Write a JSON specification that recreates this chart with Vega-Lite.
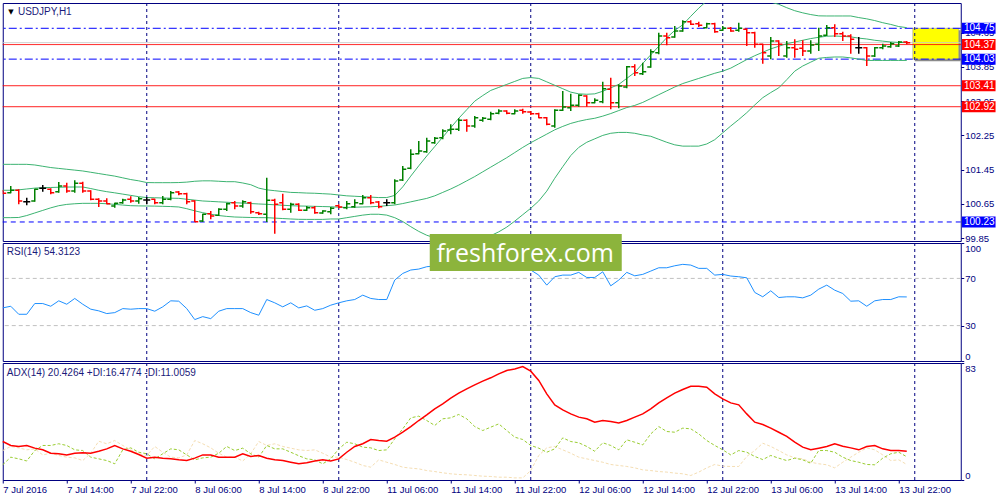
{
"$schema": "https://vega.github.io/schema/vega-lite/v6.json",
"background": "#ffffff",
"padding": {"left": -1.25, "top": 2, "right": 0, "bottom": 0},
"spacing": 2,
"bounds": "flush",
"datasets": {
"bars": [
{"i":0,"o":100.953,"h":100.976,"l":100.875,"c":100.898,"bu":101.575,"bm":100.97,"bl":100.331,"rsi":45.0,"adx":27.3,"pdi":10.8,"mdi":20.9},
{"i":1,"o":100.914,"h":101.069,"l":100.898,"c":100.968,"bu":101.575,"bm":100.97,"bl":100.331,"rsi":46.4,"adx":24.5,"pdi":16.2,"mdi":23.8},
{"i":2,"o":100.968,"h":100.991,"l":100.641,"c":100.719,"bu":101.575,"bm":100.98,"bl":100.335,"rsi":39.6,"adx":23.8,"pdi":15.0,"mdi":22.8},
{"i":3,"o":100.704,"h":100.797,"l":100.618,"c":100.704,"bu":101.575,"bm":101.00,"bl":100.38,"rsi":39.6,"adx":24.5,"pdi":13.5,"mdi":21.4},
{"i":4,"o":100.719,"h":101.007,"l":100.704,"c":100.991,"bu":101.56,"bm":101.02,"bl":100.44,"rsi":48.7,"adx":22.6,"pdi":20.9,"mdi":22.1},
{"i":5,"o":101.015,"h":101.093,"l":100.937,"c":101.015,"bu":101.53,"bm":101.03,"bl":100.50,"rsi":48.7,"adx":21.4,"pdi":24.5,"mdi":17.8},
{"i":6,"o":100.991,"h":101.015,"l":100.875,"c":100.914,"bu":101.50,"bm":101.035,"bl":100.56,"rsi":46.4,"adx":19.0,"pdi":24.5,"mdi":19.0},
{"i":7,"o":100.937,"h":101.163,"l":100.914,"c":101.069,"bu":101.48,"bm":101.04,"bl":100.61,"rsi":51.0,"adx":18.6,"pdi":25.7,"mdi":17.4},
{"i":8,"o":101.069,"h":101.147,"l":100.914,"c":100.953,"bu":101.46,"bm":101.045,"bl":100.64,"rsi":48.1,"adx":17.8,"pdi":24.5,"mdi":16.2},
{"i":9,"o":100.953,"h":101.201,"l":100.914,"c":101.131,"bu":101.44,"bm":101.046,"bl":100.655,"rsi":53.0,"adx":19.0,"pdi":21.4,"mdi":15.7},
{"i":10,"o":101.131,"h":101.170,"l":100.914,"c":100.953,"bu":101.42,"bm":101.046,"bl":100.665,"rsi":48.1,"adx":19.3,"pdi":20.9,"mdi":13.8},
{"i":11,"o":100.953,"h":100.968,"l":100.735,"c":100.758,"bu":101.39,"bm":101.01,"bl":100.665,"rsi":43.9,"adx":19.0,"pdi":16.2,"mdi":19.0},
{"i":12,"o":100.758,"h":100.781,"l":100.579,"c":100.719,"bu":101.36,"bm":100.97,"bl":100.665,"rsi":42.5,"adx":20.4,"pdi":15.0,"mdi":27.5},
{"i":13,"o":100.719,"h":100.781,"l":100.641,"c":100.657,"bu":101.33,"bm":100.937,"bl":100.655,"rsi":40.2,"adx":22.1,"pdi":13.8,"mdi":25.7},
{"i":14,"o":100.602,"h":100.680,"l":100.564,"c":100.665,"bu":101.30,"bm":100.91,"bl":100.64,"rsi":41.0,"adx":24.5,"pdi":11.5,"mdi":28.0},
{"i":15,"o":100.680,"h":100.774,"l":100.657,"c":100.742,"bu":101.26,"bm":100.88,"bl":100.625,"rsi":44.4,"adx":22.1,"pdi":21.4,"mdi":24.5},
{"i":16,"o":100.758,"h":100.828,"l":100.680,"c":100.719,"bu":101.22,"bm":100.85,"bl":100.61,"rsi":43.9,"adx":20.4,"pdi":22.8,"mdi":21.4},
{"i":17,"o":100.719,"h":100.812,"l":100.657,"c":100.774,"bu":101.19,"bm":100.82,"bl":100.605,"rsi":44.4,"adx":18.1,"pdi":19.7,"mdi":18.6},
{"i":18,"o":100.742,"h":100.812,"l":100.641,"c":100.742,"bu":101.15,"bm":100.80,"bl":100.603,"rsi":44.4,"adx":15.5,"pdi":18.6,"mdi":17.4},
{"i":19,"o":100.758,"h":100.774,"l":100.641,"c":100.680,"bu":101.147,"bm":100.795,"bl":100.60,"rsi":42.2,"adx":16.2,"pdi":15.0,"mdi":23.8},
{"i":20,"o":100.680,"h":100.836,"l":100.641,"c":100.758,"bu":101.147,"bm":100.79,"bl":100.595,"rsi":45.9,"adx":15.5,"pdi":18.6,"mdi":19.7},
{"i":21,"o":100.758,"h":100.953,"l":100.735,"c":100.914,"bu":101.147,"bm":100.785,"bl":100.59,"rsi":51.0,"adx":15.0,"pdi":22.1,"mdi":16.2},
{"i":22,"o":100.930,"h":100.953,"l":100.851,"c":100.890,"bu":101.15,"bm":100.782,"bl":100.58,"rsi":50.7,"adx":14.3,"pdi":21.4,"mdi":15.7},
{"i":23,"o":100.890,"h":100.914,"l":100.641,"c":100.704,"bu":101.16,"bm":100.76,"bl":100.54,"rsi":44.4,"adx":13.8,"pdi":17.8,"mdi":17.8},
{"i":24,"o":100.719,"h":100.735,"l":100.229,"c":100.237,"bu":101.18,"bm":100.74,"bl":100.49,"rsi":35.1,"adx":15.5,"pdi":14.3,"mdi":28.0},
{"i":25,"o":100.252,"h":100.424,"l":100.229,"c":100.408,"bu":101.19,"bm":100.72,"bl":100.447,"rsi":37.6,"adx":17.8,"pdi":15.7,"mdi":25.7},
{"i":26,"o":100.424,"h":100.486,"l":100.291,"c":100.369,"bu":101.19,"bm":100.71,"bl":100.41,"rsi":35.9,"adx":17.8,"pdi":16.2,"mdi":22.8},
{"i":27,"o":100.385,"h":100.548,"l":100.369,"c":100.525,"bu":101.18,"bm":100.70,"bl":100.38,"rsi":42.2,"adx":16.2,"pdi":19.0,"mdi":19.0},
{"i":28,"o":100.525,"h":100.680,"l":100.486,"c":100.657,"bu":101.17,"bm":100.69,"bl":100.36,"rsi":44.4,"adx":16.2,"pdi":23.8,"mdi":16.2},
{"i":29,"o":100.680,"h":100.719,"l":100.525,"c":100.602,"bu":101.17,"bm":100.68,"bl":100.346,"rsi":44.4,"adx":16.2,"pdi":20.9,"mdi":16.2},
{"i":30,"o":100.602,"h":100.735,"l":100.564,"c":100.704,"bu":101.14,"bm":100.67,"bl":100.34,"rsi":44.4,"adx":18.6,"pdi":22.6,"mdi":13.5},
{"i":31,"o":100.680,"h":100.704,"l":100.424,"c":100.470,"bu":101.10,"bm":100.66,"bl":100.335,"rsi":41.0,"adx":16.7,"pdi":18.6,"mdi":18.6},
{"i":32,"o":100.447,"h":100.470,"l":100.392,"c":100.424,"bu":101.02,"bm":100.65,"bl":100.331,"rsi":38.8,"adx":17.4,"pdi":16.2,"mdi":27.3},
{"i":33,"o":100.408,"h":101.264,"l":100.229,"c":100.735,"bu":100.98,"bm":100.642,"bl":100.33,"rsi":52.1,"adx":15.5,"pdi":24.5,"mdi":24.5},
{"i":34,"o":100.735,"h":100.774,"l":99.957,"c":100.641,"bu":100.96,"bm":100.63,"bl":100.32,"rsi":49.3,"adx":14.3,"pdi":22.1,"mdi":25.7},
{"i":35,"o":100.680,"h":100.890,"l":100.501,"c":100.525,"bu":100.94,"bm":100.62,"bl":100.31,"rsi":45.9,"adx":13.8,"pdi":22.1,"mdi":23.8},
{"i":36,"o":100.525,"h":100.680,"l":100.447,"c":100.641,"bu":100.92,"bm":100.61,"bl":100.30,"rsi":49.3,"adx":12.6,"pdi":19.7,"mdi":22.6},
{"i":37,"o":100.641,"h":100.665,"l":100.486,"c":100.501,"bu":100.914,"bm":100.603,"bl":100.292,"rsi":45.0,"adx":11.5,"pdi":17.2,"mdi":21.4},
{"i":38,"o":100.501,"h":100.602,"l":100.486,"c":100.564,"bu":100.905,"bm":100.60,"bl":100.29,"rsi":46.7,"adx":12.2,"pdi":15.0,"mdi":20.9},
{"i":39,"o":100.564,"h":100.602,"l":100.424,"c":100.447,"bu":100.90,"bm":100.595,"bl":100.29,"rsi":43.0,"adx":13.5,"pdi":14.3,"mdi":21.4},
{"i":40,"o":100.439,"h":100.501,"l":100.424,"c":100.486,"bu":100.89,"bm":100.59,"bl":100.29,"rsi":44.4,"adx":14.3,"pdi":11.5,"mdi":19.0},
{"i":41,"o":100.470,"h":100.579,"l":100.408,"c":100.548,"bu":100.88,"bm":100.585,"bl":100.30,"rsi":47.3,"adx":13.5,"pdi":15.0,"mdi":16.2},
{"i":42,"o":100.610,"h":100.641,"l":100.548,"c":100.579,"bu":100.86,"bm":100.575,"bl":100.30,"rsi":49.3,"adx":15.0,"pdi":22.1,"mdi":16.2},
{"i":43,"o":100.564,"h":100.720,"l":100.525,"c":100.658,"bu":100.84,"bm":100.57,"bl":100.33,"rsi":51.0,"adx":19.7,"pdi":26.8,"mdi":14.5},
{"i":44,"o":100.588,"h":100.759,"l":100.564,"c":100.681,"bu":100.83,"bm":100.575,"bl":100.36,"rsi":52.1,"adx":23.8,"pdi":25.7,"mdi":12.6},
{"i":45,"o":100.658,"h":100.860,"l":100.642,"c":100.798,"bu":100.82,"bm":100.58,"bl":100.39,"rsi":55.8,"adx":25.7,"pdi":23.3,"mdi":10.3},
{"i":46,"o":100.798,"h":100.860,"l":100.642,"c":100.681,"bu":100.81,"bm":100.585,"bl":100.41,"rsi":53.0,"adx":28.7,"pdi":22.8,"mdi":9.1},
{"i":47,"o":100.696,"h":100.720,"l":100.549,"c":100.588,"bu":100.80,"bm":100.595,"bl":100.41,"rsi":52.1,"adx":28.0,"pdi":20.9,"mdi":14.3},
{"i":48,"o":100.681,"h":100.759,"l":100.603,"c":100.681,"bu":100.80,"bm":100.61,"bl":100.39,"rsi":52.1,"adx":27.5,"pdi":21.4,"mdi":12.6},
{"i":49,"o":100.681,"h":101.225,"l":100.642,"c":101.187,"bu":100.85,"bm":100.626,"bl":100.33,"rsi":68.6,"adx":30.4,"pdi":29.2,"mdi":11.0},
{"i":50,"o":101.210,"h":101.537,"l":101.187,"c":101.459,"bu":101.05,"bm":100.66,"bl":100.24,"rsi":74.2,"adx":33.9,"pdi":36.3,"mdi":9.1},
{"i":51,"o":101.482,"h":101.926,"l":101.459,"c":101.809,"bu":101.30,"bm":100.70,"bl":100.12,"rsi":77.1,"adx":37.9,"pdi":44.1,"mdi":8.4},
{"i":52,"o":101.824,"h":102.120,"l":101.809,"c":101.887,"bu":101.54,"bm":100.74,"bl":100.01,"rsi":77.9,"adx":42.2,"pdi":45.3,"mdi":7.9},
{"i":53,"o":101.871,"h":102.198,"l":101.848,"c":102.120,"bu":101.77,"bm":100.78,"bl":99.92,"rsi":79.9,"adx":46.2,"pdi":42.2,"mdi":6.7},
{"i":54,"o":102.081,"h":102.213,"l":102.058,"c":102.182,"bu":101.99,"bm":100.84,"bl":99.86,"rsi":80.5,"adx":50.5,"pdi":38.7,"mdi":6.0},
{"i":55,"o":102.198,"h":102.392,"l":102.159,"c":102.353,"bu":102.21,"bm":100.92,"bl":99.82,"rsi":82.0,"adx":54.0,"pdi":43.4,"mdi":5.1},
{"i":56,"o":102.377,"h":102.509,"l":102.276,"c":102.392,"bu":102.43,"bm":101.00,"bl":99.79,"rsi":81.0,"adx":58.0,"pdi":44.1,"mdi":4.4},
{"i":57,"o":102.392,"h":102.649,"l":102.353,"c":102.602,"bu":102.65,"bm":101.09,"bl":99.78,"rsi":83.0,"adx":61.6,"pdi":46.5,"mdi":3.9},
{"i":58,"o":102.602,"h":102.626,"l":102.338,"c":102.470,"bu":102.85,"bm":101.19,"bl":99.78,"rsi":78.5,"adx":64.7,"pdi":43.4,"mdi":3.7},
{"i":59,"o":102.470,"h":102.703,"l":102.431,"c":102.665,"bu":103.05,"bm":101.29,"bl":99.80,"rsi":81.0,"adx":67.5,"pdi":37.9,"mdi":3.2},
{"i":60,"o":102.602,"h":102.680,"l":102.571,"c":102.649,"bu":103.18,"bm":101.40,"bl":99.85,"rsi":81.5,"adx":70.1,"pdi":35.1,"mdi":2.7},
{"i":61,"o":102.626,"h":102.805,"l":102.602,"c":102.758,"bu":103.30,"bm":101.51,"bl":99.91,"rsi":83.0,"adx":72.5,"pdi":37.5,"mdi":2.5},
{"i":62,"o":102.766,"h":102.859,"l":102.742,"c":102.820,"bu":103.37,"bm":101.62,"bl":100.00,"rsi":84.0,"adx":75.3,"pdi":39.8,"mdi":2.0},
{"i":63,"o":102.820,"h":102.836,"l":102.742,"c":102.766,"bu":103.44,"bm":101.73,"bl":100.11,"rsi":82.0,"adx":77.7,"pdi":35.1,"mdi":2.0},
{"i":64,"o":102.758,"h":102.859,"l":102.742,"c":102.820,"bu":103.51,"bm":101.85,"bl":100.25,"rsi":83.0,"adx":78.8,"pdi":30.4,"mdi":1.5},
{"i":65,"o":102.836,"h":102.875,"l":102.758,"c":102.805,"bu":103.58,"bm":101.97,"bl":100.40,"rsi":80.5,"adx":80.5,"pdi":28.7,"mdi":1.5},
{"i":66,"o":102.797,"h":102.820,"l":102.727,"c":102.758,"bu":103.60,"bm":102.08,"bl":100.55,"rsi":77.1,"adx":77.2,"pdi":24.5,"mdi":6.7},
{"i":67,"o":102.758,"h":102.781,"l":102.649,"c":102.665,"bu":103.58,"bm":102.18,"bl":100.72,"rsi":72.8,"adx":70.6,"pdi":22.6,"mdi":17.4},
{"i":68,"o":102.665,"h":102.680,"l":102.486,"c":102.509,"bu":103.50,"bm":102.28,"bl":100.95,"rsi":64.3,"adx":61.1,"pdi":19.7,"mdi":22.8},
{"i":69,"o":102.470,"h":102.859,"l":102.431,"c":102.836,"bu":103.42,"bm":102.38,"bl":101.25,"rsi":71.4,"adx":53.3,"pdi":22.1,"mdi":23.8},
{"i":70,"o":102.836,"h":103.287,"l":102.820,"c":102.913,"bu":103.34,"bm":102.46,"bl":101.52,"rsi":72.8,"adx":49.8,"pdi":29.9,"mdi":21.4},
{"i":71,"o":102.898,"h":103.225,"l":102.820,"c":102.952,"bu":103.26,"bm":102.53,"bl":101.78,"rsi":72.8,"adx":46.9,"pdi":27.3,"mdi":19.0},
{"i":72,"o":102.952,"h":103.209,"l":102.921,"c":103.186,"bu":103.22,"bm":102.58,"bl":101.97,"rsi":75.1,"adx":44.6,"pdi":26.4,"mdi":16.2},
{"i":73,"o":103.170,"h":103.186,"l":102.921,"c":103.015,"bu":103.21,"bm":102.62,"bl":102.09,"rsi":70.8,"adx":43.4,"pdi":23.8,"mdi":15.0},
{"i":74,"o":103.015,"h":103.116,"l":102.999,"c":103.069,"bu":103.22,"bm":102.65,"bl":102.17,"rsi":70.8,"adx":41.0,"pdi":20.4,"mdi":13.8},
{"i":75,"o":103.038,"h":103.500,"l":102.999,"c":103.340,"bu":103.28,"bm":102.70,"bl":102.25,"rsi":75.6,"adx":42.2,"pdi":26.4,"mdi":12.6},
{"i":76,"o":103.326,"h":103.598,"l":102.859,"c":103.014,"bu":103.36,"bm":102.76,"bl":102.30,"rsi":63.7,"adx":41.5,"pdi":24.5,"mdi":11.0},
{"i":77,"o":103.014,"h":103.442,"l":102.882,"c":103.403,"bu":103.44,"bm":102.83,"bl":102.32,"rsi":68.6,"adx":40.5,"pdi":21.4,"mdi":10.3},
{"i":78,"o":103.380,"h":103.870,"l":103.349,"c":103.855,"bu":103.58,"bm":102.90,"bl":102.32,"rsi":75.1,"adx":42.2,"pdi":28.5,"mdi":9.6},
{"i":79,"o":103.855,"h":103.909,"l":103.637,"c":103.715,"bu":103.72,"bm":102.95,"bl":102.30,"rsi":72.2,"adx":44.6,"pdi":26.8,"mdi":8.6},
{"i":80,"o":103.691,"h":103.948,"l":103.660,"c":103.738,"bu":103.93,"bm":103.02,"bl":102.26,"rsi":73.4,"adx":46.9,"pdi":24.9,"mdi":7.2},
{"i":81,"o":103.847,"h":104.259,"l":103.831,"c":104.205,"bu":104.13,"bm":103.11,"bl":102.23,"rsi":76.2,"adx":50.5,"pdi":32.7,"mdi":6.7},
{"i":82,"o":104.181,"h":104.648,"l":104.142,"c":104.570,"bu":104.33,"bm":103.20,"bl":102.16,"rsi":79.0,"adx":54.7,"pdi":37.9,"mdi":6.0},
{"i":83,"o":104.570,"h":104.648,"l":104.352,"c":104.531,"bu":104.53,"bm":103.29,"bl":102.09,"rsi":79.0,"adx":58.3,"pdi":34.4,"mdi":5.6},
{"i":84,"o":104.547,"h":104.804,"l":104.531,"c":104.687,"bu":104.70,"bm":103.38,"bl":102.03,"rsi":80.7,"adx":61.6,"pdi":33.9,"mdi":4.9},
{"i":85,"o":104.687,"h":104.936,"l":104.671,"c":104.905,"bu":104.83,"bm":103.46,"bl":102.00,"rsi":81.9,"adx":64.2,"pdi":36.8,"mdi":4.4},
{"i":86,"o":104.905,"h":104.936,"l":104.827,"c":104.842,"bu":105.03,"bm":103.52,"bl":102.00,"rsi":81.3,"adx":66.5,"pdi":36.3,"mdi":3.2},
{"i":87,"o":104.858,"h":104.905,"l":104.780,"c":104.819,"bu":105.22,"bm":103.58,"bl":102.00,"rsi":78.5,"adx":66.5,"pdi":32.7,"mdi":5.6},
{"i":88,"o":104.765,"h":104.881,"l":104.749,"c":104.858,"bu":105.39,"bm":103.64,"bl":102.05,"rsi":78.5,"adx":65.8,"pdi":28.0,"mdi":8.6},
{"i":89,"o":104.858,"h":104.881,"l":104.648,"c":104.671,"bu":105.50,"bm":103.70,"bl":102.15,"rsi":72.8,"adx":61.1,"pdi":24.5,"mdi":11.0},
{"i":90,"o":104.702,"h":104.804,"l":104.687,"c":104.749,"bu":105.58,"bm":103.75,"bl":102.31,"rsi":73.4,"adx":57.6,"pdi":21.4,"mdi":9.8},
{"i":91,"o":104.749,"h":104.780,"l":104.671,"c":104.687,"bu":105.62,"bm":103.82,"bl":102.47,"rsi":72.0,"adx":54.7,"pdi":17.8,"mdi":9.6},
{"i":92,"o":104.702,"h":104.881,"l":104.671,"c":104.749,"bu":105.62,"bm":103.92,"bl":102.62,"rsi":71.4,"adx":53.3,"pdi":20.9,"mdi":9.6},
{"i":93,"o":104.726,"h":104.749,"l":104.337,"c":104.648,"bu":105.58,"bm":104.02,"bl":102.78,"rsi":70.5,"adx":46.9,"pdi":19.7,"mdi":16.7},
{"i":94,"o":104.648,"h":104.671,"l":104.298,"c":104.376,"bu":105.50,"bm":104.11,"bl":102.96,"rsi":58.1,"adx":41.0,"pdi":16.7,"mdi":20.9},
{"i":95,"o":104.376,"h":104.391,"l":103.925,"c":104.181,"bu":105.42,"bm":104.19,"bl":103.13,"rsi":54.4,"adx":39.4,"pdi":14.5,"mdi":26.1},
{"i":96,"o":104.103,"h":104.547,"l":104.026,"c":104.454,"bu":105.36,"bm":104.27,"bl":103.25,"rsi":59.5,"adx":36.8,"pdi":17.4,"mdi":23.8},
{"i":97,"o":104.454,"h":104.469,"l":104.103,"c":104.376,"bu":105.31,"bm":104.33,"bl":103.36,"rsi":53.8,"adx":33.9,"pdi":15.5,"mdi":20.9},
{"i":98,"o":104.103,"h":104.454,"l":104.065,"c":104.298,"bu":105.23,"bm":104.39,"bl":103.55,"rsi":54.4,"adx":30.9,"pdi":13.8,"mdi":17.8},
{"i":99,"o":104.298,"h":104.492,"l":104.065,"c":104.259,"bu":105.16,"bm":104.43,"bl":103.75,"rsi":54.4,"adx":26.8,"pdi":15.5,"mdi":15.7},
{"i":100,"o":104.282,"h":104.469,"l":104.103,"c":104.220,"bu":105.11,"bm":104.47,"bl":103.87,"rsi":53.5,"adx":23.3,"pdi":14.3,"mdi":15.0},
{"i":101,"o":104.220,"h":104.469,"l":104.158,"c":104.360,"bu":105.07,"bm":104.51,"bl":103.96,"rsi":55.8,"adx":21.4,"pdi":11.9,"mdi":12.6},
{"i":102,"o":104.376,"h":104.765,"l":104.220,"c":104.570,"bu":105.04,"bm":104.54,"bl":104.05,"rsi":60.9,"adx":22.6,"pdi":20.9,"mdi":11.5},
{"i":103,"o":104.586,"h":104.827,"l":104.570,"c":104.765,"bu":105.037,"bm":104.565,"bl":104.07,"rsi":64.3,"adx":23.8,"pdi":20.9,"mdi":10.8},
{"i":104,"o":104.765,"h":104.842,"l":104.547,"c":104.625,"bu":105.037,"bm":104.57,"bl":104.08,"rsi":60.0,"adx":25.7,"pdi":19.7,"mdi":8.6},
{"i":105,"o":104.625,"h":104.671,"l":104.454,"c":104.570,"bu":105.037,"bm":104.56,"bl":104.08,"rsi":57.2,"adx":24.0,"pdi":16.2,"mdi":12.6},
{"i":106,"o":104.570,"h":104.609,"l":104.158,"c":104.492,"bu":105.037,"bm":104.55,"bl":104.06,"rsi":50.7,"adx":22.8,"pdi":13.8,"mdi":16.2},
{"i":107,"o":104.298,"h":104.547,"l":104.158,"c":104.298,"bu":105.00,"bm":104.52,"bl":104.03,"rsi":51.0,"adx":21.4,"pdi":12.6,"mdi":19.7},
{"i":108,"o":104.298,"h":104.313,"l":103.870,"c":104.103,"bu":104.97,"bm":104.50,"bl":104.00,"rsi":46.4,"adx":23.8,"pdi":11.0,"mdi":22.8},
{"i":109,"o":104.103,"h":104.313,"l":104.080,"c":104.298,"bu":104.93,"bm":104.47,"bl":104.00,"rsi":51.0,"adx":24.5,"pdi":10.8,"mdi":21.4},
{"i":110,"o":104.298,"h":104.391,"l":104.259,"c":104.337,"bu":104.88,"bm":104.45,"bl":104.00,"rsi":52.1,"adx":22.1,"pdi":15.5,"mdi":17.8},
{"i":111,"o":104.321,"h":104.430,"l":104.298,"c":104.391,"bu":104.84,"bm":104.43,"bl":104.00,"rsi":52.1,"adx":20.9,"pdi":18.6,"mdi":13.8},
{"i":112,"o":104.337,"h":104.454,"l":104.313,"c":104.430,"bu":104.79,"bm":104.42,"bl":104.00,"rsi":54.4,"adx":20.9,"pdi":19.7,"mdi":14.3},
{"i":113,"o":104.430,"h":104.454,"l":104.376,"c":104.415,"bu":104.765,"bm":104.415,"bl":104.00,"rsi":54.3,"adx":20.4,"pdi":16.5,"mdi":11.0}
],
"grid": [{"i":18},{"i":42},{"i":66},{"i":90},{"i":114}],
"levels": [
{"p":104.75,"k":"channel"},
{"p":104.03,"k":"channel"},
{"p":100.23,"k":"low"},
{"p":104.37,"k":"level"},
{"p":103.41,"k":"level"},
{"p":102.92,"k":"level"},
{"p":104.415,"k":"bid"}
],
"box": [{"x1":113.75,"x2":119.5,"lo":104.03,"hi":104.75}],
"rsiLevels": [{"v":70},{"v":30}],
"caption": [{"t":"USDJPY,H1","m":"▼"}],
"rsiCaption": [{"t":"RSI(14) 54.3123"}],
"adxCaption": [{"t":"ADX(14) 20.4264 +DI:16.4774 -DI:11.0059"}],
"watermark": [{"t":"freshforex.com"}]
},
"vconcat": [
{
"width": 958,
"height": 238,
"resolve": {"axis": {"x": "independent", "y": "independent"}},
"layer": [
{"data":{"name":"box"},"mark":{"type":"rect","fill":"#8a8a8a","xOffset":2,"x2Offset":2,"yOffset":2,"y2Offset":2},
 "encoding":{"x":{"field":"x1","type":"quantitative","scale":{"domain":[0,119.75],"nice":false,"zero":false},"axis":null},"x2":{"field":"x2"},
 "y":{"field":"hi","type":"quantitative","scale":{"domain":[99.786,105.34],"nice":false,"zero":false},"axis":null},"y2":{"field":"lo"}}},
{"data":{"name":"box"},"mark":{"type":"rect","fill":"#ffff00","stroke":"#9a9a9a","strokeWidth":0.5},
 "encoding":{"x":{"field":"x1","type":"quantitative","axis":null},"x2":{"field":"x2"},
 "y":{"field":"hi","type":"quantitative","axis":null},"y2":{"field":"lo"}}},
{"data":{"name":"grid"},"mark":{"type":"rule","color":"#000080","strokeDash":[3,3],"strokeWidth":1},
 "encoding":{"x":{"field":"i","type":"quantitative","axis":null}}},
{"data":{"name":"levels"},"mark":{"type":"rule","strokeWidth":1},
 "encoding":{"y":{"field":"p","type":"quantitative","axis":{"orient":"right","title":null,"values":[99.85,100.65,101.45,102.25,103.05,103.85,104.65],"format":".2f"}},
 "color":{"field":"k","type":"nominal","scale":{"domain":["channel","low","level","bid"],"range":["#0000ff","#0000ff","#ff0000","#c8c8c8"]},"legend":null},
 "strokeDash":{"field":"k","type":"nominal","scale":{"domain":["channel","low","level","bid"],"range":[[8,3,2,3],[5,4],[1,0],[1,0]]},"legend":null}}},
{"data":{"name":"bars"},"mark":{"type":"line","color":"#3cb371","strokeWidth":1,"clip":true},
 "encoding":{"x":{"field":"i","type":"quantitative","axis":null},"y":{"field":"bu","type":"quantitative","axis":null}}},
{"data":{"name":"bars"},"mark":{"type":"line","color":"#3cb371","strokeWidth":1,"clip":true},
 "encoding":{"x":{"field":"i","type":"quantitative","axis":null},"y":{"field":"bm","type":"quantitative","axis":null}}},
{"data":{"name":"bars"},"mark":{"type":"line","color":"#3cb371","strokeWidth":1,"clip":true},
 "encoding":{"x":{"field":"i","type":"quantitative","axis":null},"y":{"field":"bl","type":"quantitative","axis":null}}},
{"data":{"name":"bars"},"mark":{"type":"rule","strokeWidth":1.5,"clip":true},
 "encoding":{"x":{"field":"i","type":"quantitative","axis":null},"y":{"field":"l","type":"quantitative","axis":null},"y2":{"field":"h"},
 "color":{"condition":[{"test":"datum.c > datum.o","value":"#008000"},{"test":"datum.c < datum.o","value":"#ff0000"}],"value":"#000000"}}},
{"data":{"name":"bars"},"mark":{"type":"rule","strokeWidth":1.5,"x2Offset":-3.5,"clip":true},
 "encoding":{"x":{"field":"i","type":"quantitative","axis":null},"x2":{"field":"i"},"y":{"field":"o","type":"quantitative","axis":null},
 "color":{"condition":[{"test":"datum.c > datum.o","value":"#008000"},{"test":"datum.c < datum.o","value":"#ff0000"}],"value":"#000000"}}},
{"data":{"name":"bars"},"mark":{"type":"rule","strokeWidth":1.5,"x2Offset":3.5,"clip":true},
 "encoding":{"x":{"field":"i","type":"quantitative","axis":null},"x2":{"field":"i"},"y":{"field":"c","type":"quantitative","axis":null},
 "color":{"condition":[{"test":"datum.c > datum.o","value":"#008000"},{"test":"datum.c < datum.o","value":"#ff0000"}],"value":"#000000"}}},
{"data":{"name":"levels"},"transform":[{"filter":"datum.k != 'bid'"}],"mark":{"type":"rect","yOffset":-5.5,"y2Offset":5.5},
 "encoding":{"x":{"datum":119.9,"type":"quantitative","axis":null},"x2":{"datum":124.1},"y":{"field":"p","type":"quantitative","axis":null},"y2":{"field":"p"},
 "color":{"field":"k","type":"nominal","legend":null}}},
{"data":{"name":"levels"},"transform":[{"filter":"datum.k != 'bid'"}],"mark":{"type":"text","align":"left","baseline":"middle","color":"#ffffff","fontSize":10,"font":"Liberation Sans"},
 "encoding":{"x":{"datum":120.15,"type":"quantitative","axis":null},"y":{"field":"p","type":"quantitative","axis":null},"text":{"field":"p","type":"quantitative","format":".2f"}}},
{"data":{"name":"caption"},"mark":{"type":"text","align":"left","baseline":"middle","color":"#000000","fontSize":7,"font":"DejaVu Sans"},
 "encoding":{"x":{"datum":0.7,"type":"quantitative","axis":null},"y":{"datum":105.13,"type":"quantitative","axis":null},"text":{"field":"m"}}},
{"data":{"name":"caption"},"mark":{"type":"text","align":"left","baseline":"middle","color":"#1a1a7a","fontSize":10,"font":"Liberation Sans"},
 "encoding":{"x":{"datum":1.9,"type":"quantitative","axis":null},"y":{"datum":105.13,"type":"quantitative","axis":null},"text":{"field":"t"}}}
]
},
{
"width": 958,
"height": 118,
"resolve": {"axis": {"x": "independent", "y": "independent"}},
"layer": [
{"data":{"name":"grid"},"mark":{"type":"rule","color":"#000080","strokeDash":[3,3],"strokeWidth":1},
 "encoding":{"x":{"field":"i","type":"quantitative","scale":{"domain":[0,119.75],"nice":false,"zero":false},"axis":null}}},
{"data":{"name":"rsiLevels"},"mark":{"type":"rule","color":"#c0c0c0","strokeDash":[4,3],"strokeWidth":1},
 "encoding":{"y":{"field":"v","type":"quantitative","scale":{"domain":[0,100],"nice":false,"zero":false},"axis":{"orient":"right","title":null,"values":[0,30,70,100],"labelFlush":true}}}},
{"data":{"name":"bars"},"mark":{"type":"line","color":"#1e90ff","strokeWidth":1},
 "encoding":{"x":{"field":"i","type":"quantitative","axis":null},"y":{"field":"rsi","type":"quantitative","axis":null}}},
{"data":{"name":"rsiCaption"},"mark":{"type":"text","align":"left","baseline":"middle","color":"#1a1a7a","fontSize":10,"font":"Liberation Sans"},
 "encoding":{"x":{"datum":0.5,"type":"quantitative","axis":null},"y":{"datum":92.4,"type":"quantitative","axis":null},"text":{"field":"t"}}},
{"data":{"name":"watermark"},"mark":{"type":"rect","fill":"#8cb43c"},
 "encoding":{"x":{"datum":53.375,"type":"quantitative","axis":null},"x2":{"datum":77.375},"y":{"datum":107.6,"type":"quantitative","axis":null},"y2":{"datum":76.3}}},
{"data":{"name":"watermark"},"mark":{"type":"text","align":"center","baseline":"alphabetic","color":"#ffffff","fontSize":25,"font":"Open Sans"},
 "encoding":{"x":{"datum":65.3,"type":"quantitative","axis":null},"y":{"datum":83.5,"type":"quantitative","axis":null},"text":{"field":"t"}}}
]
},
{
"width": 958,
"height": 117,
"resolve": {"axis": {"x": "independent", "y": "independent"}},
"layer": [
{"data":{"name":"grid"},"mark":{"type":"rule","color":"#000080","strokeDash":[3,3],"strokeWidth":1},
 "encoding":{"x":{"field":"i","type":"quantitative","scale":{"domain":[0,119.75],"nice":false,"zero":false},
 "axis":{"orient":"bottom","title":null,"values":[0,8,16,24,32,40,48,56,64,72,80,88,96,104,112],"labelAlign":"left","labelPadding":1,"labelFlush":false,
 "labelExpr":"['7 Jul 2016','7 Jul 14:00','7 Jul 22:00','8 Jul 06:00','8 Jul 14:00','8 Jul 22:00','11 Jul 06:00','11 Jul 14:00','11 Jul 22:00','12 Jul 06:00','12 Jul 14:00','12 Jul 22:00','13 Jul 06:00','13 Jul 14:00','13 Jul 22:00'][round(datum.value/8)]"}}}},
{"data":{"name":"bars"},"mark":{"type":"line","color":"#f5deb3","strokeWidth":1,"strokeDash":[3,2]},
 "encoding":{"x":{"field":"i","type":"quantitative","axis":null},"y":{"field":"mdi","type":"quantitative","scale":{"domain":[0,83],"nice":false,"zero":false},"axis":{"orient":"right","title":null,"values":[0,83],"labelFlush":true}}}},
{"data":{"name":"bars"},"mark":{"type":"line","color":"#9acd32","strokeWidth":1,"strokeDash":[3,2]},
 "encoding":{"x":{"field":"i","type":"quantitative","axis":null},"y":{"field":"pdi","type":"quantitative","axis":null}}},
{"data":{"name":"bars"},"mark":{"type":"line","color":"#ff0000","strokeWidth":1.5},
 "encoding":{"x":{"field":"i","type":"quantitative","axis":null},"y":{"field":"adx","type":"quantitative","axis":null}}},
{"data":{"name":"adxCaption"},"mark":{"type":"text","align":"left","baseline":"middle","color":"#1a1a7a","fontSize":10,"font":"Liberation Sans"},
 "encoding":{"x":{"datum":0.5,"type":"quantitative","axis":null},"y":{"datum":75.9,"type":"quantitative","axis":null},"text":{"field":"t"}}}
]
}
],
"config": {
"view": {"stroke": "#000080", "strokeWidth": 1},
"axis": {"labelFont": "Liberation Sans", "labelFontSize": 9.5, "labelColor": "#000080", "tickColor": "#000080", "tickSize": 3, "labelPadding": 1, "domain": false, "grid": false},
"text": {"font": "Liberation Sans"}
}
}
